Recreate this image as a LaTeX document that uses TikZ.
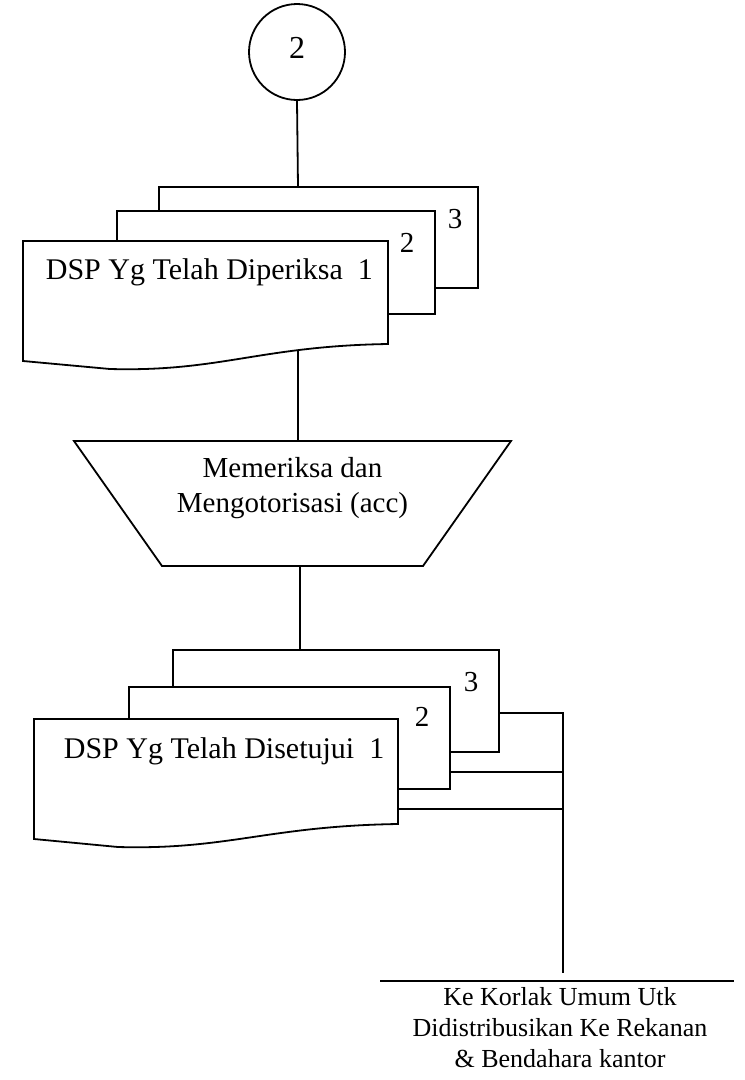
\documentclass[tikz,border=0pt]{standalone}
\usepackage{fontspec}
\setmainfont{Liberation Serif}
\begin{document}
\begin{tikzpicture}[x=1pt,y=-1pt,
  line width=1.8pt, line join=miter,
  sheet/.style={draw=black, fill=white},
  conn/.style={draw=black},
  bigtxt/.style={font=\fontsize{29}{35}\selectfont, inner sep=0pt},
  doctxt/.style={font=\fontsize{30}{36}\selectfont, inner sep=0pt, anchor=base west},
  numtxt/.style={font=\fontsize{29}{35}\selectfont, inner sep=0pt, anchor=base},
  endtxt/.style={font=\fontsize{26}{31}\selectfont, inner sep=0pt, anchor=base}]
\useasboundingbox (0,0) rectangle (745,1080);

% off-page connector
\node[draw, circle, minimum size=96pt, inner sep=0pt] (conn2) at (297,52) {};
\node[font=\fontsize{32}{38}\selectfont, inner sep=0pt, anchor=base] (conn2txt) at (297,58) {2};

% anchor points for the flow lines
\coordinate (stackAtop) at (298,187);
\coordinate (stackAin) at (298,300);
\coordinate (procTop) at (298,441);
\coordinate (procBot) at (300,566);
\coordinate (stackBtop) at (300,650);
\coordinate (sB3) at (499,713);
\coordinate (sB2) at (450,772);
\coordinate (sB1) at (398,809);
\coordinate (busTop) at (563,713);
\coordinate (busM) at (563,772);
\coordinate (busL) at (563,809);
\coordinate (busEnd) at (563,973);

% flow lines (drawn first, sheets are filled on top)
\draw[conn] (conn2.south) -- (stackAtop);
\draw[conn] (stackAin) -- (procTop);
\draw[conn] (procBot) -- (stackBtop);
\draw[conn] (sB3) -- (busTop) -- (busEnd);
\draw[conn] (sB2) -- (busM);
\draw[conn] (sB1) -- (busL);

% first document stack
\draw[sheet] (159,187) rectangle (478,288);
\draw[sheet] (117,211) rectangle (435,314);
\draw[sheet] (23,241) -- (388,241) -- (388,344)
  .. controls (260,346) and (220,372) .. (110,369) -- (23,361) -- cycle;
\node[numtxt] (a3) at (455,228) {3};
\node[numtxt] (a2) at (407,252) {2};
\node[doctxt] (docA) at (45,279) {DSP Yg Telah Diperiksa\ \ 1};

% manual operation
\draw[sheet] (74,441) -- (511,441) -- (423,566) -- (162,566) -- cycle;
\node[bigtxt, anchor=base] (procL1) at (292.5,477) {Memeriksa dan};
\node[bigtxt, anchor=base] (procL2) at (292.5,512) {Mengotorisasi (acc)};

% second document stack
\draw[sheet] (173,650) rectangle (499,752);
\draw[sheet] (129,687) rectangle (450,789);
\draw[sheet] (34,719) -- (398,719) -- (398,824)
  .. controls (268,826) and (228,850) .. (118,847) -- (34,839) -- cycle;
\node[numtxt] (b3) at (471,691) {3};
\node[numtxt] (b2) at (422,726) {2};
\node[doctxt] (docB) at (63,758) {DSP Yg Telah Disetujui\ \ 1};

% destination
\coordinate (destL) at (380,981);
\coordinate (destR) at (734,981);
\draw[conn] (destL) -- (destR);
\node[endtxt] (dest1) at (560,1005) {Ke Korlak Umum Utk};
\node[endtxt] (dest2) at (560,1036) {Didistribusikan Ke Rekanan};
\node[endtxt] (dest3) at (560,1067) {\& Bendahara kantor};
\end{tikzpicture}
\end{document}
